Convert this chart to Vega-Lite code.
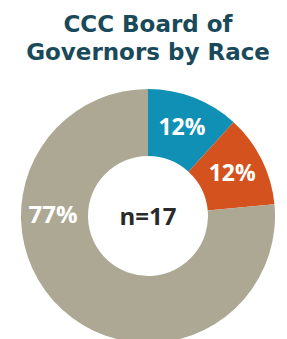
{
  "$schema": "https://vega.github.io/schema/vega-lite/v6.json",
  "autosize": "none",
  "width": 296,
  "height": 260,
  "padding": {"left": 0, "top": 86, "right": 0, "bottom": 0},
  "background": "white",
  "title": {
    "text": ["CCC Board of", "Governors by Race"],
    "font": "DejaVu Sans",
    "fontSize": 23,
    "fontWeight": "bold",
    "color": "#1A4A5A",
    "lineHeight": 28,
    "anchor": "middle",
    "offset": 21
  },
  "data": {
    "values": [
      {"race": "A", "count": 2, "label": "12%", "order": 1},
      {"race": "B", "count": 2, "label": "12%", "order": 2},
      {"race": "C", "count": 13, "label": "77%", "order": 3}
    ]
  },
  "encoding": {
    "theta": {"field": "count", "type": "quantitative", "stack": true},
    "order": {"field": "order", "type": "quantitative"},
    "color": {
      "field": "race",
      "type": "nominal",
      "scale": {"domain": ["A", "B", "C"], "range": ["#1190B5", "#D4521D", "#ACA893"]},
      "legend": null
    }
  },
  "layer": [
    {"mark": {"type": "arc", "outerRadius": 127, "innerRadius": 60}},
    {
      "transform": [{"filter": "datum.order < 3"}],
      "mark": {"type": "text", "radius": 94, "font": "Open Sans", "fontWeight": "bold", "fontSize": 23, "baseline": "middle"},
      "encoding": {"text": {"field": "label"}, "color": {"value": "white"}}
    },
    {
      "transform": [{"filter": "datum.order == 3"}],
      "mark": {"type": "text", "radius": 95, "theta": 4.712, "font": "Open Sans", "fontWeight": "bold", "fontSize": 24, "baseline": "middle"},
      "encoding": {"theta": null, "order": null, "text": {"field": "label"}, "color": {"value": "white"}}
    },
    {
      "data": {"values": [{"note": "n=17"}]},
      "mark": {"type": "text", "font": "Open Sans", "fontWeight": "bold", "fontSize": 24, "baseline": "middle", "dy": 2},
      "encoding": {"theta": null, "order": null, "text": {"field": "note"}, "color": {"value": "#2A2A2A"}}
    }
  ]
}
